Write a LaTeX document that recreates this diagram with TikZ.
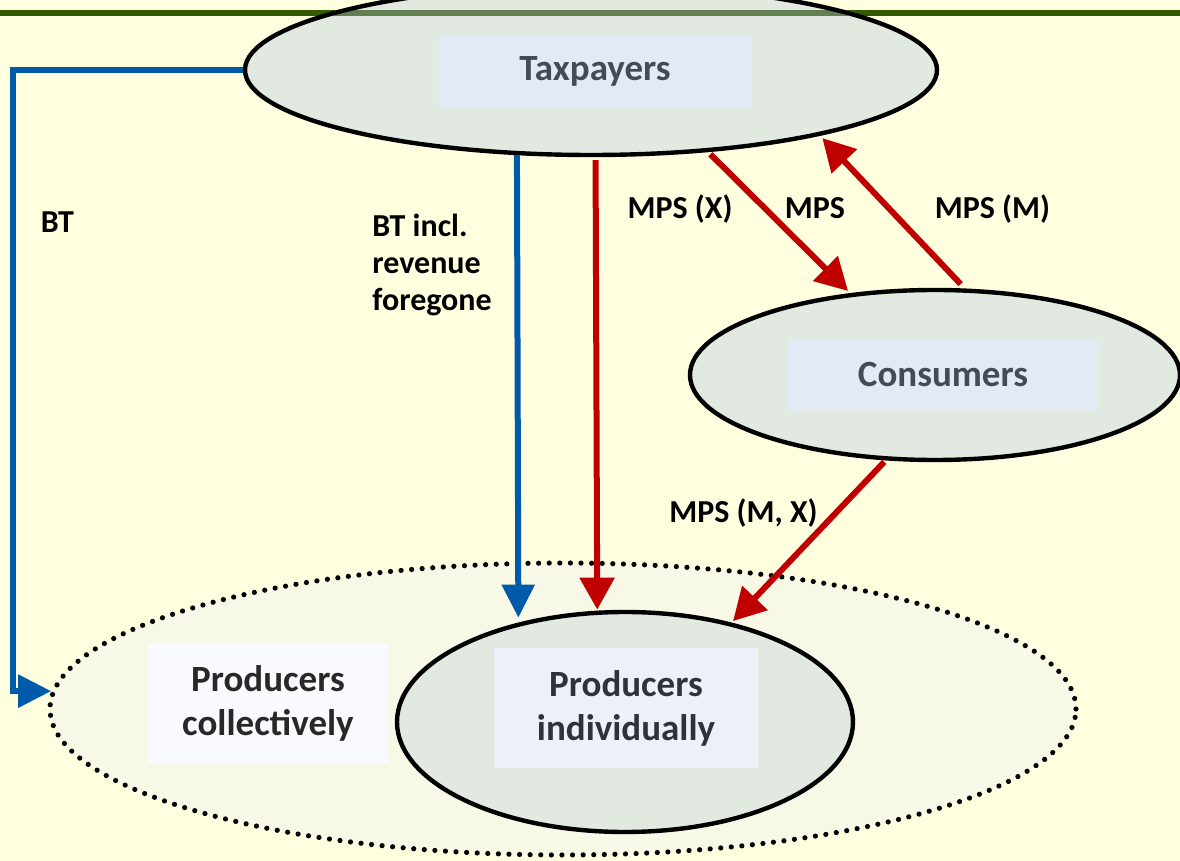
\documentclass[tikz,border=0pt]{standalone}
\usepackage{fontspec}
\setmainfont{Carlito}
\usetikzlibrary{arrows.meta,shapes.geometric}

\definecolor{paper}{RGB}{255,255,224}
\definecolor{topgreen}{RGB}{52,90,0}
\definecolor{palegreen}{RGB}{98,128,82}
\definecolor{ovalgrey}{RGB}{226,233,224}
\definecolor{outerfill}{RGB}{247,249,230}
\definecolor{boxblue}{RGB}{227,234,245}
\definecolor{indivblue}{RGB}{236,240,249}
\definecolor{collwhite}{RGB}{249,250,253}
\definecolor{nametext}{RGB}{68,75,85}
\definecolor{indivtext}{RGB}{45,50,60}
\definecolor{colltext}{RGB}{40,40,40}
\definecolor{flowblue}{RGB}{0,90,170}
\definecolor{flowred}{RGB}{192,0,0}

\begin{document}
\begin{tikzpicture}[x=0.5pt, y=-0.5pt,
    oval/.style={ellipse, draw, line width=2.2pt, fill=ovalgrey, inner sep=0pt},
    namebox/.style={rectangle, fill=boxblue, text=nametext, align=center, font=\fontsize{18.5}{22}\selectfont\bfseries},
    lbl/.style={inner sep=0pt, font=\fontsize{16}{18.5}\selectfont\bfseries},
    bluearrow/.style={-{Triangle[length=16.5pt,width=16pt]}, line width=3pt, draw=flowblue},
    redarrow/.style={-{Triangle[length=16pt,width=17pt]}, line width=3pt, draw=flowred}]
    \fill[paper] (0,0) rectangle (1180,861);
    \useasboundingbox (0,0) rectangle (1180,861);
    \draw[line width=3pt, topgreen] (0,13) -- (1180,13);

    % taxpayers on top of the banner line
    \node[oval, draw=none, minimum width=346pt, minimum height=85pt] (tax) at (591,70) {};
    \draw[line width=3pt, palegreen] (334,13) -- (848,13);
    \node[oval, fill=none, minimum width=346pt, minimum height=85pt] at (tax.center) {};
    \node[namebox, minimum width=156pt, minimum height=35.5pt] (taxname) at (595,71.5) {Taxpayers};

    % producers
    \node[ellipse, draw, line width=2.6pt, dash pattern=on 0pt off 5.3pt, line cap=round, fill=outerfill,
          inner sep=0pt, minimum width=513pt, minimum height=146pt] (prodall) at (563,709) {};
    \node[namebox, fill=collwhite, text=colltext, minimum width=120pt, minimum height=60pt] (collname) at (268,703) {Producers\\collectively};
    \node[oval, minimum width=228pt, minimum height=110pt] (prodind) at (625,722) {};
    \node[namebox, fill=indivblue, text=indivtext, minimum width=132pt, minimum height=60pt] (indivname) at (626,708) {Producers\\individually};

    % consumers
    \node[oval, minimum width=245pt, minimum height=85pt] (cons) at (935,375) {};
    \node[namebox, minimum width=155pt, minimum height=35.5pt] (consname) at (943,374.5) {Consumers};

    % transfers
    \coordinate (btcorner) at (13,70);
    \draw[bluearrow] (tax.west) -- (btcorner) |- (prodall.178);
    \draw[bluearrow, shorten >=2.5pt] (tax.229.5) -- (prodind.137.8);
    \draw[redarrow, shorten <=1.5pt, shorten >=0.5pt] (tax.273.4) -- (prodind.104.9);
    \draw[redarrow, shorten <=1.5pt, shorten >=1.5pt] (tax.325.6) -- (cons.136);
    \draw[redarrow, shorten <=3pt, shorten >=1.7pt] (cons.71.6) -- (tax.344.6);
    \draw[redarrow, shorten <=1pt, shorten >=1pt] (cons.240.1) -- (prodind.43.6);

    \node[lbl, anchor=base] (btlbl) at (57.5,232.7) {BT};
    \node[lbl, anchor=north west, align=left] (btincl) at (372,214) {BT incl.\\revenue\\foregone};
    \node[lbl, anchor=base] (mpsx) at (680,219) {MPS (X)};
    \node[lbl, anchor=base] (mps) at (815,219) {MPS};
    \node[lbl, anchor=base] (mpsm) at (992.5,219) {MPS (M)};
    \node[lbl, anchor=base] (mpsmx) at (743.5,523) {MPS (M, X)};
\end{tikzpicture}
\end{document}
